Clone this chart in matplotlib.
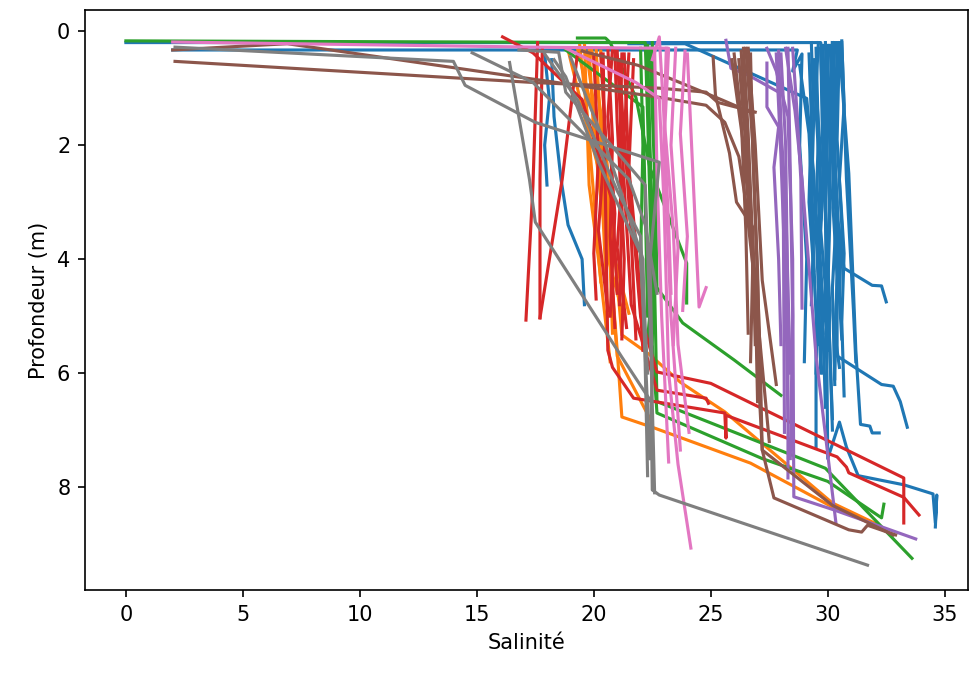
import matplotlib
matplotlib.use("Agg")
import matplotlib.pyplot as plt

# salinity / depth profiles, one list per cast, grouped by station colour
blue_sal = [
    [0.0, 29.7, 30.0, 29.8, 30.0, 29.8, 29.9],
    [2.0, 28.7, 28.5, 28.9, 28.8, 29.1, 29.0],
    [17.9, 18.1, 17.9, 18.0],
    [18.2, 18.3, 18.6, 18.9, 19.5, 19.6],
    [21.5, 23.9, 29.1, 29.4, 29.6, 29.5],
    [29.3, 29.4, 29.3, 29.5, 29.5],
    [30.3, 30.2, 30.4, 30.2, 30.3],
    [29.8, 29.9, 29.7, 30.0, 29.8],
    [29.5, 29.6, 29.5, 29.7, 29.6],
    [30.2, 30.1, 30.3, 30.7, 31.9, 32.3, 32.5],
    [30.1, 30.3, 30.4, 30.4, 32.3, 32.8, 33.1, 33.4],
    [30.5, 30.9, 31.2, 31.4, 31.8, 31.9, 32.2],
    [29.7, 29.9, 30.0, 30.5, 30.8, 31.3, 33.25, 34.5, 34.6, 34.66, 34.6],
    [29.6, 29.5, 29.7, 29.6, 29.8, 29.7],
    [30.6, 30.7, 30.5, 30.7, 30.6, 30.7],
    [30.0, 29.9, 30.1, 30.0, 30.2],
    [29.4, 29.5, 29.7, 29.6, 29.7],
    [30.4, 30.3, 30.5, 30.3, 30.5],
    [28.8, 29.2, 29.4, 29.3],
    [30.6, 30.8, 31.1, 31.2],
    [29.9, 30.0, 29.9, 30.1, 30.0],
    [30.5, 30.4, 30.6, 30.5, 30.6],
    [29.7, 29.8, 29.6, 29.8],
    [30.2, 30.3, 30.2, 30.4, 30.3],
    [30.0, 30.1, 30.0, 30.2],
    [29.2, 29.3, 29.2, 29.4],
]
blue_dep = [
    [0.2, 0.2, 1.2, 2.5, 3.8, 5.2, 6.6],
    [0.33, 0.33, 0.7, 0.4, 2.0, 4.0, 5.8],
    [0.4, 1.2, 2.0, 2.7],
    [0.5, 1.5, 2.6, 3.4, 4.0, 4.8],
    [0.22, 0.22, 1.18, 2.5, 4.5, 6.0],
    [0.2, 1.5, 3.0, 5.0, 7.3],
    [0.2, 1.5, 3.0, 4.5, 6.2],
    [0.25, 2.0, 3.5, 5.0, 6.0],
    [0.3, 1.8, 3.2, 4.2, 5.5],
    [0.2, 1.5, 3.0, 4.16, 4.46, 4.47, 4.75],
    [0.25, 2.0, 4.0, 5.7, 6.2, 6.23, 6.5, 6.95],
    [0.3, 2.5, 5.6, 6.9, 6.93, 7.05, 7.05],
    [0.3, 3.0, 7.5, 6.86, 7.3, 7.8, 7.96, 8.12, 8.63, 8.14, 8.7],
    [0.2, 1.0, 2.2, 3.5, 4.8, 5.9],
    [0.2, 1.3, 2.6, 3.9, 5.1, 6.4],
    [0.4, 1.7, 3.1, 4.6, 6.8],
    [0.5, 1.4, 2.8, 4.4, 6.0],
    [0.2, 2.3, 3.7, 5.3, 5.9],
    [0.6, 1.8, 3.5, 4.8],
    [0.17, 2.6, 4.9, 5.8],
    [0.2, 1.6, 3.3, 4.9, 5.6],
    [0.2, 1.9, 3.4, 4.7, 5.4],
    [0.3, 2.4, 4.1, 5.3],
    [0.2, 1.2, 2.9, 4.3, 6.1],
    [0.25, 2.2, 4.4, 7.0],
    [0.4, 1.5, 3.0, 4.2],
]

orange_sal = [
    [18.9, 19.6, 20.4, 20.9, 21.5],
    [19.6, 19.8, 20.2, 20.7],
    [19.3, 20.0, 20.6, 21.0, 21.2, 22.5, 26.7, 30.2, 31.9],
    [19.9, 20.5, 21.0, 21.2, 22.4, 23.7, 25.6, 30.2, 32.2],
    [20.1, 20.4, 21.0, 22.4],
    [19.7, 20.3, 20.5, 21.2],
    [20.3, 20.6, 20.8],
    [19.4, 19.7, 20.0, 20.3],
    [19.8, 20.0, 20.4, 20.6],
]
orange_dep = [
    [0.33, 1.5, 2.7, 4.0, 4.95],
    [0.2, 2.7, 4.0, 5.8],
    [0.3, 1.5, 3.5, 5.6, 6.77, 6.95, 7.58, 8.35, 8.63],
    [0.3, 2.0, 4.4, 5.33, 5.68, 6.16, 6.68, 8.28, 8.67],
    [0.3, 2.5, 5.7, 6.8],
    [0.4, 2.2, 3.8, 4.9],
    [0.35, 2.8, 5.3],
    [0.25, 1.4, 2.9, 4.4],
    [0.3, 1.8, 3.3, 5.0],
]

green_sal = [
    [0.0, 22.2, 22.3, 22.4, 22.5, 22.3],
    [19.3, 20.5, 20.7, 21.8, 22.4, 23.97, 23.97],
    [18.8, 22.1, 22.2, 22.3],
    [22.5, 22.6, 22.7, 23.8, 26.0, 28.0],
    [22.4, 22.6, 22.5, 22.7, 27.2, 30.0, 32.3, 32.4],
    [22.3, 22.4, 22.6, 22.7, 29.9, 33.6],
    [22.0, 22.1, 22.0, 22.2],
]
green_dep = [
    [0.17, 0.2, 1.5, 3.0, 4.5, 5.4],
    [0.12, 0.12, 0.2, 1.16, 2.4, 4.07, 4.77],
    [0.33, 1.33, 3.0, 5.0],
    [0.2, 2.0, 4.5, 5.12, 5.77, 6.39],
    [0.3, 2.5, 5.5, 6.7, 7.5, 7.9, 8.54, 8.3],
    [0.25, 2.0, 4.5, 6.5, 7.67, 9.25],
    [0.3, 2.0, 4.0, 5.5],
]

red_sal = [
    [16.1, 17.4, 19.5, 20.8, 21.0],
    [17.6, 17.4, 17.1],
    [17.8, 17.7, 17.7],
    [19.3, 19.1, 18.65, 17.7],
    [20.3, 20.5, 20.2, 20.6],
    [20.8, 20.6, 20.9, 20.7],
    [21.1, 21.3, 21.0, 21.4],
    [21.5, 21.3, 21.6, 21.8],
    [20.0, 20.2, 20.0, 20.1],
    [21.7, 21.5, 21.9, 22.1],
    [20.4, 20.5, 20.6, 20.8, 21.7, 25.6, 25.65, 25.65, 30.4, 30.8, 30.9, 33.25, 33.9],
    [21.3, 21.5, 22.0, 22.7, 25.0, 33.25, 33.25],
    [21.0, 21.2, 21.6, 22.7, 24.8, 24.9],
    [20.6, 20.8, 20.7, 20.9],
    [21.2, 21.1, 21.3, 21.2],
    [20.9, 21.0, 21.2, 21.1],
]
red_dep = [
    [0.1, 0.38, 1.2, 3.0, 4.6],
    [0.2, 2.7, 5.07],
    [0.3, 2.6, 5.03],
    [0.4, 1.07, 2.6, 5.03],
    [0.4, 1.8, 3.5, 4.9],
    [0.3, 1.5, 3.2, 5.0],
    [0.5, 2.0, 3.8, 5.2],
    [0.4, 1.8, 3.6, 5.4],
    [0.45, 2.2, 3.9, 4.7],
    [0.5, 2.4, 4.2, 5.6],
    [0.4, 3.0, 5.6, 5.9, 6.44, 6.7, 7.14, 6.74, 7.47, 7.65, 7.75, 8.18, 8.49],
    [0.4, 2.5, 5.0, 5.98, 6.18, 7.84, 8.63],
    [0.35, 2.0, 4.8, 6.3, 6.44, 6.53],
    [0.3, 1.9, 3.6, 5.2],
    [0.4, 2.3, 4.0, 5.4],
    [0.35, 1.6, 3.1, 4.8],
]

purple_sal = [
    [27.4, 27.8, 28.3, 28.5, 28.55, 30.26, 33.76],
    [28.0, 28.2, 28.3, 28.3],
    [27.9, 28.1, 28.15],
    [28.2, 28.6, 28.9, 29.5, 30.35],
    [28.5, 28.7, 28.85, 28.9],
    [25.65, 25.86, 26.6, 27.9, 28.2, 28.4],
    [27.4, 27.4, 27.9, 27.7, 27.9, 28.0],
    [28.3, 28.4, 28.5, 28.4],
    [27.8, 28.0, 28.2, 28.3],
]
purple_dep = [
    [0.3, 0.7, 1.5, 4.0, 8.17, 8.4, 8.91],
    [0.4, 2.0, 5.0, 7.84],
    [0.35, 3.0, 7.04],
    [0.3, 1.4, 2.6, 5.7, 8.63],
    [0.3, 1.5, 2.6, 4.86],
    [0.16, 0.65, 0.77, 1.07, 3.0, 6.0],
    [0.56, 1.33, 1.68, 2.39, 4.0, 5.5],
    [0.3, 2.5, 5.0, 7.5],
    [0.4, 2.2, 4.5, 6.8],
]

brown_sal = [
    [2.1, 17.4, 22.8, 24.8, 25.3, 26.9],
    [2.0, 6.9, 22.8, 24.8, 25.6, 26.2, 26.5, 26.9, 27.0],
    [19.5, 21.9, 24.8, 25.5, 26.8],
    [25.1, 25.2, 25.8, 26.1, 26.8, 26.8],
    [26.5, 26.8, 27.1, 27.2, 27.7, 30.9, 31.45, 31.7, 32.9],
    [26.3, 26.6, 26.9, 27.2, 30.2, 32.8],
    [26.6, 26.9, 27.2, 27.8],
    [26.2, 26.6, 27.0, 27.5],
    [26.0, 26.3, 26.5, 26.6],
    [25.9, 26.4, 26.8, 26.7],
    [26.4, 26.6, 26.8, 26.9],
    [26.7, 26.8, 27.0, 27.1],
]
brown_dep = [
    [0.53, 0.9, 1.0, 1.07, 1.25, 1.42],
    [0.33, 0.22, 1.16, 1.3, 1.6, 2.2, 3.0, 4.5, 6.5],
    [0.35, 0.6, 1.09, 1.21, 1.44],
    [0.45, 1.12, 2.14, 3.0, 3.44, 4.9],
    [0.3, 2.0, 5.6, 7.35, 8.19, 8.75, 8.79, 8.67, 8.84],
    [0.35, 2.5, 5.0, 7.35, 8.32, 8.84],
    [0.3, 2.0, 4.37, 6.2],
    [0.5, 2.5, 5.0, 7.2],
    [0.4, 1.5, 3.5, 5.3],
    [0.5, 2.0, 4.0, 5.8],
    [0.3, 1.8, 3.8, 5.5],
    [0.4, 2.2, 4.2, 6.0],
]

pink_sal = [
    [2.0, 17.5, 23.2, 23.0, 23.3, 23.7],
    [18.8, 21.8, 22.8, 23.0, 23.2, 23.6, 24.15],
    [24.0, 24.5, 24.8],
    [22.5, 22.8, 23.0, 23.4, 23.6, 24.07],
    [23.5, 23.3, 23.6, 23.4],
    [23.9, 23.7, 24.0, 23.8],
    [22.6, 22.7, 22.9, 23.2],
    [23.1, 23.0, 23.2, 23.3],
]
pink_dep = [
    [0.19, 0.28, 0.3, 2.0, 5.0, 7.35],
    [0.3, 0.9, 1.18, 3.0, 6.0, 7.6, 9.07],
    [0.4, 4.84, 4.5],
    [0.5, 0.1, 1.5, 3.5, 5.5, 7.04],
    [0.3, 2.0, 3.8, 5.5],
    [0.35, 1.8, 3.6, 4.9],
    [0.3, 2.5, 5.0, 7.56],
    [0.3, 1.7, 3.4, 4.6],
]

gray_sal = [
    [2.1, 14.0, 14.5, 17.5, 22.8, 22.4, 22.5, 22.4],
    [14.8, 17.4, 21.5, 22.2, 22.7],
    [16.4, 17.25, 17.5, 21.2, 22.45, 22.5, 22.8, 31.7],
    [16.8, 18.5, 18.8, 22.2, 22.4, 22.6],
    [17.9, 19.3, 21.0, 22.0, 22.3],
    [18.3, 18.8, 20.2, 22.0, 22.4],
    [19.0, 20.5, 22.1, 22.3],
]
gray_dep = [
    [0.28, 0.53, 0.95, 1.6, 2.3, 4.0, 6.0, 7.5],
    [0.38, 0.9, 2.6, 3.4, 4.6],
    [0.55, 2.6, 3.35, 5.72, 6.5, 8.05, 8.14, 9.37],
    [0.33, 0.37, 1.07, 2.7, 5.0, 8.1],
    [0.4, 1.2, 2.8, 3.6, 6.0],
    [0.5, 0.8, 2.3, 3.9, 7.5],
    [0.45, 2.0, 4.0, 7.8],
]

groups = [
    (blue_sal, blue_dep, "C0"),
    (orange_sal, orange_dep, "C1"),
    (green_sal, green_dep, "C2"),
    (red_sal, red_dep, "C3"),
    (purple_sal, purple_dep, "C4"),
    (brown_sal, brown_dep, "C5"),
    (pink_sal, pink_dep, "C6"),
    (gray_sal, gray_dep, "C7"),
]

fig, ax = plt.subplots(figsize=(9.72 / 1.5, 6.73 / 1.5), dpi=150)
fig.subplots_adjust(left=0.0874, right=0.996, top=0.985, bottom=0.123)

for sal, dep, col in groups:
    for s, d in zip(sal, dep):
        ax.plot(s, d, color=col, lw=1.5)

ax.set_xlim(-1.75, 36.0)
ax.set_ylim(9.81, -0.37)
ax.set_xlabel("Salinité")
ax.set_ylabel("Profondeur (m)")

fig.savefig("out.png", dpi=150)
